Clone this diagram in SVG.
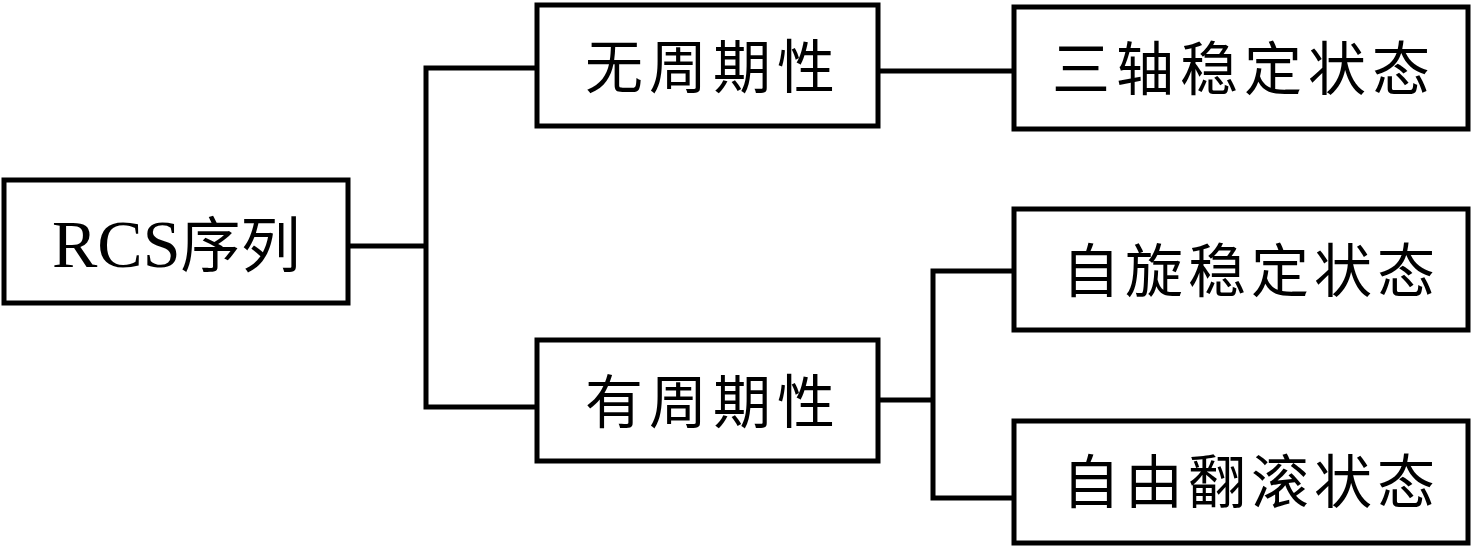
<svg xmlns="http://www.w3.org/2000/svg" width="1474" height="547" viewBox="0 0 1474 547">
<style>
.box{fill:#fff;stroke:#000;stroke-width:5}
.ln{fill:none;stroke:#000;stroke-width:5}
.cj{font-family:"Noto Sans CJK SC","Noto Sans",sans-serif;font-size:58px;letter-spacing:6px;fill:#000}
.cj5{letter-spacing:5px}
.lt{font-family:"Liberation Serif",serif;font-size:68px;fill:#000}
</style>
<rect width="1474" height="547" fill="#fff"/>
<g id="connectors">
<path class="ln" d="M348 246 H426"/>
<path class="ln" d="M537 68 H426 V407 H537"/>
<path class="ln" d="M878 71 H1014"/>
<path class="ln" d="M878 400 H933"/>
<path class="ln" d="M1014 271 H933 V498 H1014"/>
</g>
<g id="rcs">
<rect class="box" x="4" y="180" width="344" height="123"/>
<text x="52" y="267"><tspan class="lt">RCS</tspan><tspan class="cj" style="font-size:60px;letter-spacing:0">序列</tspan></text>
</g>
<g id="aperiodic">
<rect class="box" x="537" y="5" width="341" height="121"/>
<text class="cj" x="585" y="88">无周期性</text>
</g>
<g id="periodic">
<rect class="box" x="537" y="340" width="341" height="121"/>
<text class="cj" x="585" y="423">有周期性</text>
</g>
<g id="three-axis">
<rect class="box" x="1014" y="7" width="454" height="122"/>
<text class="cj" x="1052" y="90">三轴稳定状态</text>
</g>
<g id="spin">
<rect class="box" x="1014" y="209" width="454" height="121"/>
<text class="cj cj5" x="1062" y="292">自旋稳定状态</text>
</g>
<g id="tumble">
<rect class="box" x="1014" y="421" width="454" height="122"/>
<text class="cj cj5" x="1062" y="503">自由翻滚状态</text>
</g>
</svg>
